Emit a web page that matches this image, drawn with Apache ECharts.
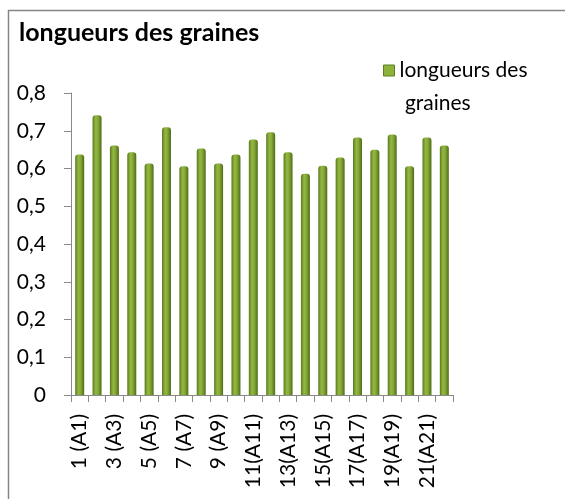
<!DOCTYPE html>
<html style="height: 100%">
  <head>
    <meta charset="utf-8">
  </head>
  <body style="height: 100%; margin: 0; background: #fff">
    <div id="container" style="width: 565px; height: 499px"></div>
    <script type="text/javascript" src="https://cdn.jsdelivr.net/npm/echarts@6/dist/echarts.min.js"></script>
    <script type="text/javascript">
      // categories and values
      let categories = [
        '1 (A1)', '2 (A2)', '3 (A3)', '4 (A4)', '5 (A5)', '6 (A6)', '7 (A7)', '8 (A8)',
        '9 (A9)', '10(A10)', '11(A11)', '12(A12)', '13(A13)', '14(A14)', '15(A15)',
        '16(A16)', '17(A17)', '18(A18)', '19(A19)', '20(A20)', '21(A21)', '22(A22)'
      ];
      let longueurs = [
        0.637, 0.741, 0.661, 0.643, 0.613, 0.709, 0.606, 0.653, 0.613, 0.637, 0.677,
        0.696, 0.643, 0.586, 0.607, 0.629, 0.682, 0.650, 0.690, 0.606, 0.682, 0.661
      ];
      let yTicks = [0, 0.1, 0.2, 0.3, 0.4, 0.5, 0.6, 0.7, 0.8];

      let dom = document.getElementById('container');
      let myChart = echarts.init(dom, null, { renderer: 'canvas' });
      let font = 'Lato';

      let barColor = new echarts.graphic.LinearGradient(0, 0, 1, 0, [
        { offset: 0, color: '#5a7a1c' },
        { offset: 0.35, color: '#93b842' },
        { offset: 0.6, color: '#86a938' },
        { offset: 1, color: '#4f6c17' }
      ]);

      let option = {
        animation: false,
        textStyle: { fontFamily: font },
        title: {
          text: 'longueurs des graines',
          left: 19,
          top: 20,
          padding: 0,
          textStyle: { fontFamily: font, fontWeight: 'bold', fontSize: 25, color: '#000' }
        },
        legend: {
          data: ['longueurs des graines'],
          left: 383,
          top: 54,
          padding: 0,
          itemWidth: 11,
          itemHeight: 44,
          // square in the top quarter so it sits beside the first line
          icon: 'path://M0,0 L10,0 L10,10 L0,10 Z M0,40 L0.01,40',
          itemStyle: { color: '#8db33a', borderColor: '#5f801f', borderWidth: 1 },
          formatter: function () {
            return 'longueurs des\n graines';
          },
          textStyle: { fontFamily: font, fontSize: 21, color: '#000', lineHeight: 33 }
        },
        grid: {
          left: 71,
          right: 112,
          top: 93,
          bottom: 104,
          containLabel: false
        },
        xAxis: {
          type: 'category',
          data: categories,
          axisLine: { lineStyle: { color: '#898989', width: 1 } },
          axisTick: { show: true, alignWithLabel: false, interval: 0, length: 7, lineStyle: { color: '#898989' } },
          axisLabel: {
            interval: 1,
            rotate: 90,
            fontFamily: font,
            fontSize: 21,
            color: '#000',
            margin: 19
          }
        },
        yAxis: {
          type: 'value',
          min: yTicks[0],
          max: yTicks[yTicks.length - 1],
          interval: 0.1,
          splitLine: { show: false },
          axisLine: { show: true, lineStyle: { color: '#898989', width: 1 } },
          axisTick: { show: true, length: 7, lineStyle: { color: '#898989' } },
          axisLabel: {
            fontFamily: font,
            fontSize: 21,
            color: '#000',
            margin: 25,
            formatter: function (v) {
              return String(Math.round(v * 10) / 10).replace('.', ',');
            }
          }
        },
        series: [{
          name: 'longueurs des graines',
          type: 'bar',
          data: longueurs,
          barWidth: 9,
          itemStyle: {
            color: barColor,
            borderRadius: [3, 3, 0, 0]
          }
        }],
        graphic: {
          elements: [{
            type: 'rect',
            shape: { x: 8.5, y: 10.5, width: 600, height: 600 },
            style: { fill: 'none', stroke: '#868686', lineWidth: 1.5 },
            silent: true,
            z: -1
          }]
        }
      };

      myChart.setOption(option);
    </script>
  </body>
</html>
